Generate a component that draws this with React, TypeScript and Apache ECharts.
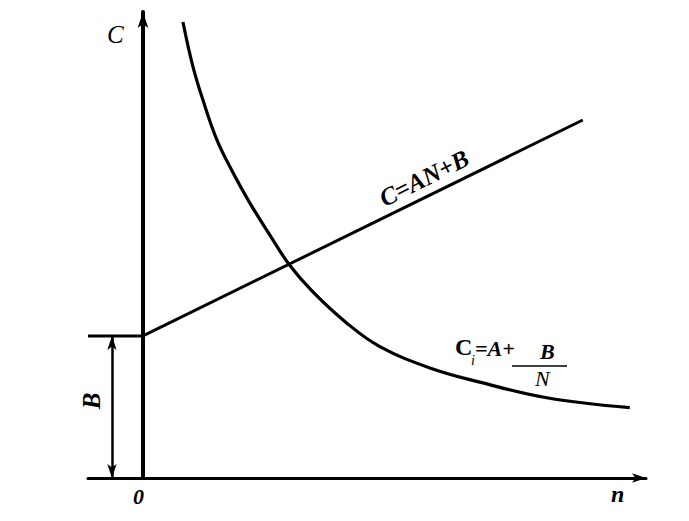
import React, { useEffect, useRef } from "react";
import * as echarts from "echarts";

// Straight cost line C = AN + B
const lineN = [0, 8];
const lineC = [2, 5.04];

// Hyperbolic cost curve C_i = A + B/N
const curveN = [0.727, 0.909, 1.091, 1.345, 1.636, 1.945, 2.309, 2.655, 3.091, 3.709, 4.309, 5.218, 6.127, 7.345, 8.855];
const curveC = [6.42, 5.79, 5.32, 4.76, 4.3, 3.87, 3.42, 3.01, 2.62, 2.18, 1.85, 1.55, 1.35, 1.13, 0.99];

// Level B
const bLevelN = [-1, 0];
const bLevelC = [2, 2];
const bDimN = -0.564;

const serif = "'Liberation Serif', 'DejaVu Serif', serif";

function txt(text: string, x: number, y: number, size: number, italic = true, bold = true, extra: any = {}) {
  return {
    type: "text",
    x,
    y,
    ...extra,
    style: {
      text,
      fontSize: size,
      fontFamily: serif,
      fontStyle: italic ? "italic" : "normal",
      fontWeight: bold ? "bold" : "normal",
      fill: "#000",
      ...(extra.style || {}),
    },
  };
}

export default function App() {
  const ref = useRef<HTMLDivElement>(null);
  useEffect(() => {
    if (!ref.current) return;
    const chart = echarts.init(ref.current, null, { renderer: "svg" });
    const zip = (a: number[], b: number[]) => a.map((v, i) => [v, b[i]]);
    chart.setOption({
      animation: false,
      backgroundColor: "#ffffff",
      grid: { left: 88, right: 43, top: 12, bottom: 43 },
      xAxis: {
        type: "value",
        min: -1,
        max: 9.15,
        axisLine: {
          show: true,
          onZero: true,
          lineStyle: { color: "#000", width: 3 },
          symbol: ["none", "arrow"],
          symbolSize: [7, 14],
        },
        axisTick: { show: false },
        axisLabel: { show: false },
        splitLine: { show: false },
      },
      yAxis: {
        type: "value",
        min: 0,
        max: 6.56,
        axisLine: {
          show: true,
          onZero: true,
          lineStyle: { color: "#000", width: 4 },
          symbol: ["none", "arrow"],
          symbolSize: [8, 16],
        },
        axisTick: { show: false },
        axisLabel: { show: false },
        splitLine: { show: false },
      },
      series: [
        {
          type: "line",
          data: zip(lineN, lineC),
          symbol: "none",
          lineStyle: { color: "#000", width: 3 },
        },
        {
          type: "line",
          data: zip(curveN, curveC),
          symbol: "none",
          smooth: 0.4,
          lineStyle: { color: "#000", width: 3.2 },
        },
        {
          type: "line",
          data: zip(bLevelN, bLevelC),
          symbol: "none",
          lineStyle: { color: "#000", width: 3 },
          markLine: {
            silent: true,
            symbol: ["arrow", "arrow"],
            symbolSize: [7, 14],
            label: { show: false },
            lineStyle: { color: "#000", width: 2.5, type: "solid" },
            data: [[{ coord: [bDimN, 0] }, { coord: [bDimN, 2] }]],
          },
        },
      ],
      graphic: [
        txt("C", 107, 22, 25, true, false),
        txt("0", 133, 485, 22, true, true),
        txt("n", 611, 482, 24, true, true),
        txt("B", 91, 401, 25, true, true, {
          rotation: Math.PI / 2,
          style: { align: "center", verticalAlign: "middle" },
        }),
        txt("C=AN+B", 424, 178, 25, true, true, {
          rotation: 0.465,
          style: { align: "center", verticalAlign: "middle" },
        }),
        txt("C", 455, 335, 24, false, true),
        txt("i", 471, 353, 14, true, false),
        txt("=A+", 475, 337, 22, true, true),
        txt("B", 540, 340, 22, true, true),
        {
          type: "line",
          shape: { x1: 512, y1: 366, x2: 567, y2: 366 },
          style: { stroke: "#000", lineWidth: 1.5 },
        },
        txt("N", 535, 367, 22, true, false),
      ],
    });
    return () => chart.dispose();
  }, []);
  return (
    <div
      ref={ref}
      style={{ position: "fixed", left: 0, top: 0, width: 689, height: 521, background: "#fff" }}
    />
  );
}
